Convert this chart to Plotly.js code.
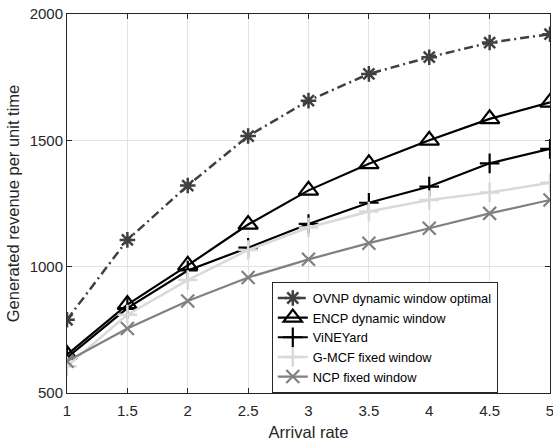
<!DOCTYPE html>
<html>
<head>
<meta charset="utf-8">
<script src="https://cdn.plot.ly/plotly-3.0.1.min.js"></script>
<style>html,body{margin:0;padding:0;background:#fff;}#chart{width:553px;height:443px;}</style>
</head>
<body>
<div id="chart"></div>
<script>
const arrivalRate = [1, 1.5, 2, 2.5, 3, 3.5, 4, 4.5, 5];
const ovnp = [790, 1106, 1321, 1517, 1657, 1763, 1829, 1887, 1920];
const encp = [652, 850, 1005, 1167, 1302, 1407, 1500, 1585, 1650];
const vineyard = [640, 836, 985, 1075, 1169, 1253, 1317, 1409, 1466];
const gmcf = [606, 810, 947, 1066, 1155, 1218, 1264, 1294, 1332];
const ncp = [626, 755, 864, 957, 1029, 1093, 1152, 1211, 1264];
const seriesNames = ["OVNP dynamic window optimal", "ENCP dynamic window", "ViNEYard", "G-MCF fixed window", "NCP fixed window"];
const xTicks = [1, 1.5, 2, 2.5, 3, 3.5, 4, 4.5, 5];
const yTicks = [500, 1000, 1500, 2000];

const traces = [
  {x: arrivalRate, y: ovnp, name: seriesNames[0], mode: 'lines+markers',
   line: {color: '#404040', width: 2.5, dash: '9px,4px,2px,4px'},
   marker: {symbol: 'asterisk-open', size: 13, line: {color: '#404040', width: 2.5}}},
  {x: arrivalRate, y: encp, name: seriesNames[1], mode: 'lines+markers',
   line: {color: '#000000', width: 2.2},
   marker: {symbol: 'triangle-up-open', size: 17, line: {color: '#000000', width: 2.2}}},
  {x: arrivalRate, y: vineyard, name: seriesNames[2], mode: 'lines+markers',
   line: {color: '#000000', width: 2.2},
   marker: {symbol: 'cross-thin-open', size: 14, line: {color: '#000000', width: 2.2}}},
  {x: arrivalRate, y: gmcf, name: seriesNames[3], mode: 'lines+markers',
   line: {color: '#d9d9d9', width: 2.5},
   marker: {symbol: 'cross-thin-open', size: 14, line: {color: '#d9d9d9', width: 2.5}}},
  {x: arrivalRate, y: ncp, name: seriesNames[4], mode: 'lines+markers',
   line: {color: '#808080', width: 2.2},
   marker: {symbol: 'x-thin-open', size: 13, line: {color: '#808080', width: 2.2}}}
];

const layout = {
  width: 553, height: 443,
  margin: {l: 67, r: 3, t: 14, b: 50},
  paper_bgcolor: '#ffffff', plot_bgcolor: '#ffffff',
  font: {family: 'Liberation Sans, Arial, sans-serif', size: 15, color: '#262626'},
  showlegend: true,
  legend: {
    x: 0.424, y: 0.146, xanchor: 'left', yanchor: 'middle',
    bgcolor: '#ffffff', bordercolor: '#262626', borderwidth: 1,
    font: {size: 12.8, color: '#000000'}, tracegroupgap: 0, itemwidth: 30
  },
  xaxis: {
    range: [1, 5], tickvals: xTicks, ticktext: xTicks.map(String),
    showgrid: true, gridcolor: '#e3e3e3', gridwidth: 1,
    zeroline: false, showline: true, linecolor: '#262626', linewidth: 1, mirror: 'ticks',
    ticks: 'inside', ticklen: 5, tickcolor: '#262626', ticklabeloverflow: 'allow',
    ticklabelstandoff: 4,
    tickfont: {size: 15},
    title: {text: 'Arrival rate', font: {size: 16.5}, standoff: 8}
  },
  yaxis: {
    range: [500, 2000], tickvals: yTicks, ticktext: yTicks.map(String),
    showgrid: true, gridcolor: '#e3e3e3', gridwidth: 1,
    zeroline: false, showline: true, linecolor: '#262626', linewidth: 1, mirror: 'ticks',
    ticks: 'inside', ticklen: 5, tickcolor: '#262626', ticklabeloverflow: 'allow',
    tickfont: {size: 15},
    title: {text: 'Generated revenue per unit time', font: {size: 16.5}, standoff: 5}
  }
};

Plotly.newPlot('chart', traces, layout, {displayModeBar: false, staticPlot: true});
</script>
</body>
</html>
